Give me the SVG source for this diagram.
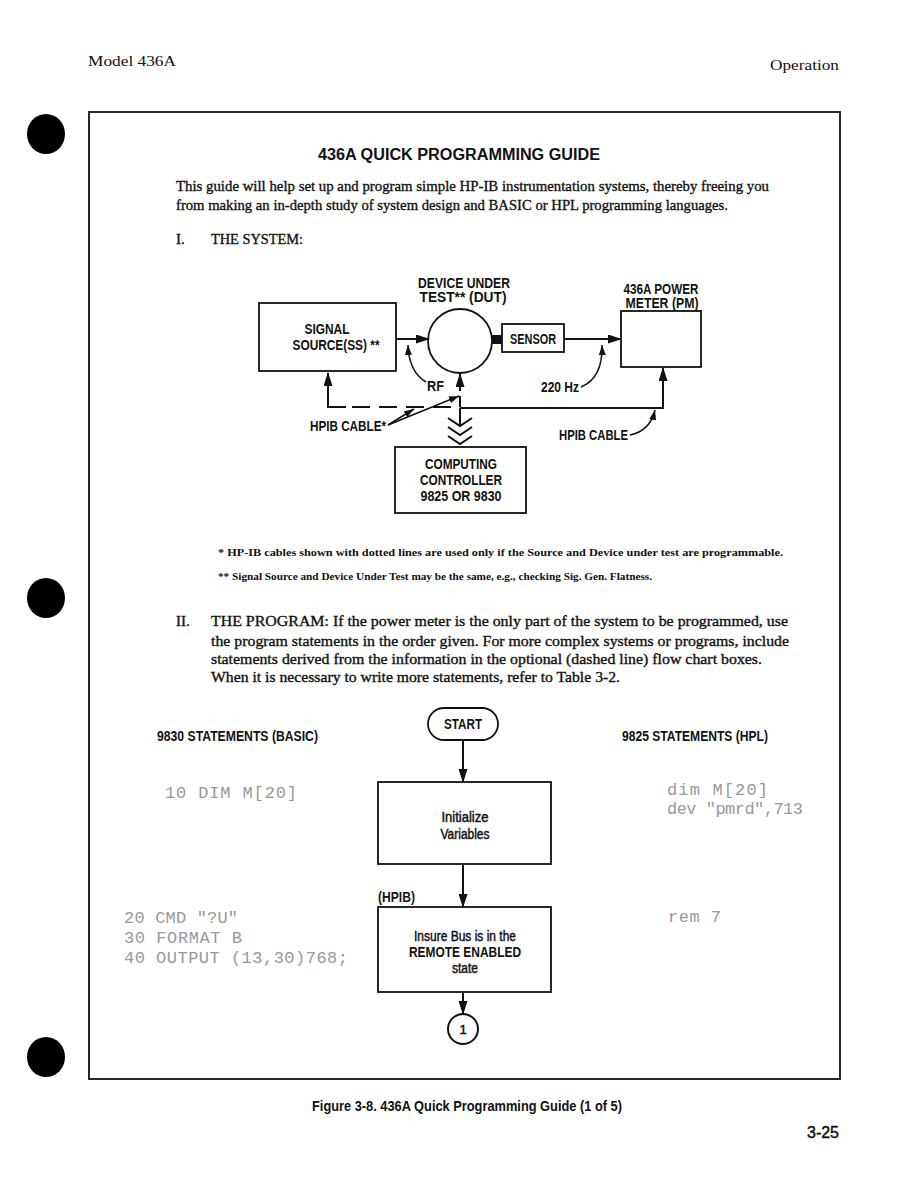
<svg xmlns="http://www.w3.org/2000/svg" width="922" height="1188" viewBox="0 0 922 1188">
<style>
.serif{font-family:"Liberation Serif",serif;fill:#111}
.hdr{font-size:15.5px}
.body{font-size:15px;stroke:#111;stroke-width:0.35}
.note{font-size:10px;font-weight:bold}
.cond{font-family:"Liberation Sans Narrow","Liberation Sans",sans-serif;font-weight:bold;fill:#111}
.cond.nb{font-weight:normal;stroke:#111;stroke-width:0.45}
.lab{font-size:14px}
.fc{font-size:14px}
.fcb{font-size:14px}
.code{font-family:"Liberation Mono",monospace;font-size:17px;fill:#999}
.box{fill:#fff;stroke:#111;stroke-width:1.8}
.ln{fill:none;stroke:#111;stroke-width:2}
.thin{fill:none;stroke:#111;stroke-width:1.5}
.mid{text-anchor:middle}
</style>
<defs>
<marker id="arr" markerUnits="userSpaceOnUse" markerWidth="14" markerHeight="9" refX="13" refY="4.5" orient="auto">
<path d="M0,0 L14,4.5 L0,9 z" fill="#111"/>
</marker>
<marker id="arrs" markerUnits="userSpaceOnUse" markerWidth="10" markerHeight="7" refX="10" refY="3.5" orient="auto">
<path d="M0,0 L10,3.5 L0,7 z" fill="#111"/>
</marker>
</defs>
<rect width="922" height="1188" fill="#fff"/>

<!-- page header -->
<text class="serif hdr" x="88" y="66" textLength="88" lengthAdjust="spacingAndGlyphs">Model 436A</text>
<text class="serif hdr" x="839" y="70" text-anchor="end" textLength="69" lengthAdjust="spacingAndGlyphs">Operation</text>

<!-- punch holes -->
<ellipse cx="46" cy="134" rx="19" ry="20" fill="#000"/>
<ellipse cx="46" cy="598" rx="19" ry="20" fill="#000"/>
<ellipse cx="46" cy="1057" rx="19" ry="20" fill="#000"/>

<!-- frame -->
<rect x="89" y="112" width="751" height="967" fill="none" stroke="#111" stroke-width="1.8"/>

<!-- title and intro -->
<text class="cond mid" x="459" y="160" font-size="16" textLength="282" lengthAdjust="spacingAndGlyphs">436A QUICK PROGRAMMING GUIDE</text>
<text class="serif body" x="176" y="191" textLength="593" lengthAdjust="spacingAndGlyphs">This guide will help set up and program simple HP-IB instrumentation systems, thereby freeing you</text>
<text class="serif body" x="176" y="210" textLength="552" lengthAdjust="spacingAndGlyphs">from making an in-depth study of system design and BASIC or HPL programming languages.</text>
<text class="serif body" x="176" y="244">I.</text>
<text class="serif body" x="211" y="244" textLength="92" lengthAdjust="spacingAndGlyphs">THE SYSTEM:</text>

<!-- system diagram nodes -->
<g id="signal-source">
<rect class="box" x="259" y="303" width="137" height="68"/>
<text class="cond lab mid" x="327" y="334" textLength="45" lengthAdjust="spacingAndGlyphs">SIGNAL</text>
<text class="cond lab mid" x="336" y="350" textLength="87" lengthAdjust="spacingAndGlyphs">SOURCE(SS) **</text>
</g>
<g id="dut">
<circle cx="460" cy="341" r="32" fill="#fff" stroke="#111" stroke-width="1.8"/>
<text class="cond lab mid" x="464" y="288" textLength="92" lengthAdjust="spacingAndGlyphs">DEVICE UNDER</text>
<text class="cond lab mid" x="463" y="302" textLength="87" lengthAdjust="spacingAndGlyphs">TEST**  (DUT)</text>
</g>
<g id="sensor">
<rect x="492" y="335" width="10" height="9" fill="#111"/>
<rect class="box" x="502" y="324" width="62" height="28"/>
<text class="cond lab mid" x="533" y="344" textLength="46" lengthAdjust="spacingAndGlyphs">SENSOR</text>
</g>
<g id="power-meter">
<rect class="box" x="621" y="311" width="80" height="56"/>
<text class="cond lab mid" x="661" y="294" textLength="75" lengthAdjust="spacingAndGlyphs">436A POWER</text>
<text class="cond lab mid" x="662" y="308" textLength="73" lengthAdjust="spacingAndGlyphs">METER (PM)</text>
</g>
<g id="controller">
<rect class="box" x="395" y="447" width="131" height="66"/>
<text class="cond lab mid" x="461" y="469" textLength="72" lengthAdjust="spacingAndGlyphs">COMPUTING</text>
<text class="cond lab mid" x="461" y="485" textLength="82" lengthAdjust="spacingAndGlyphs">CONTROLLER</text>
<text class="cond lab mid" x="461" y="501" textLength="81" lengthAdjust="spacingAndGlyphs">9825 OR 9830</text>
</g>

<!-- system diagram connectors -->
<g id="system-connectors">
<line class="ln" x1="396" y1="339" x2="429" y2="339" marker-end="url(#arr)"/>
<line class="ln" x1="564" y1="339" x2="621" y2="339" marker-end="url(#arr)"/>
<path class="ln" d="M460,408 L663,408 L663,368" marker-end="url(#arr)"/>
<line class="ln" x1="460" y1="408" x2="460" y2="426"/>
<polyline class="ln" points="448,418 460,426 472,418"/>
<polyline class="ln" points="448,427 460,435 472,427"/>
<polyline class="ln" points="448,436 460,444 472,436"/>
<line class="ln" x1="460" y1="407" x2="460" y2="396"/>
<line class="ln" x1="460" y1="391" x2="460" y2="374" marker-end="url(#arr)"/>
<path class="ln" d="M346,407 L328,407 L328,373" marker-end="url(#arr)"/>
<line class="ln" x1="352" y1="407" x2="455" y2="407" stroke-dasharray="18 9"/>
<!-- pointers -->
<path class="thin" d="M426,382 Q409,372 408,345" marker-end="url(#arrs)"/>
<text class="cond lab" x="427" y="391" textLength="17" lengthAdjust="spacingAndGlyphs">RF</text>
<path class="thin" d="M581,387 Q603,378 602,345" marker-end="url(#arrs)"/>
<text class="cond lab" x="541" y="392" textLength="38" lengthAdjust="spacingAndGlyphs">220 Hz</text>
<path class="thin" d="M630,435 Q650,431 655,410" marker-end="url(#arrs)"/>
<text class="cond lab" x="559" y="440" textLength="69" lengthAdjust="spacingAndGlyphs">HPIB CABLE</text>
<line class="thin" x1="388" y1="425" x2="414" y2="409" marker-end="url(#arrs)"/>
<line class="thin" x1="388" y1="425" x2="459" y2="396" marker-end="url(#arrs)"/>
<text class="cond lab" x="310" y="431" textLength="76" lengthAdjust="spacingAndGlyphs">HPIB CABLE*</text>
</g>

<!-- footnotes -->
<text class="serif note" x="218" y="556" textLength="565" lengthAdjust="spacingAndGlyphs">* HP-IB cables shown with dotted lines are used only if the Source and Device under test are programmable.</text>
<text class="serif note" x="218" y="580" textLength="434" lengthAdjust="spacingAndGlyphs">** Signal Source and Device Under Test may be the same, e.g., checking Sig. Gen. Flatness.</text>

<!-- program section -->
<text class="serif body" x="176" y="626">II.</text>
<text class="serif body" x="211" y="626" textLength="577" lengthAdjust="spacingAndGlyphs">THE PROGRAM:  If the power meter is the only part of the system to be programmed, use</text>
<text class="serif body" x="211" y="646" textLength="578" lengthAdjust="spacingAndGlyphs">the program statements in the order given.  For more complex systems or programs, include</text>
<text class="serif body" x="211" y="664" textLength="551" lengthAdjust="spacingAndGlyphs">statements derived from the information in the optional (dashed line) flow chart boxes.</text>
<text class="serif body" x="211" y="682" textLength="409" lengthAdjust="spacingAndGlyphs">When it is necessary to write more statements, refer to Table 3-2.</text>

<text class="cond fc" x="157" y="741" textLength="161" lengthAdjust="spacingAndGlyphs">9830 STATEMENTS (BASIC)</text>
<text class="cond fc" x="622" y="741" textLength="146" lengthAdjust="spacingAndGlyphs">9825 STATEMENTS (HPL)</text>

<!-- code listings -->
<g id="code-basic">
<text class="code" x="165" y="798" textLength="132" lengthAdjust="spacing">10 DIM M[20]</text>
<text class="code" x="124" y="923" textLength="114" lengthAdjust="spacing">20 CMD "?U"</text>
<text class="code" x="124" y="943" textLength="118" lengthAdjust="spacing">30 FORMAT B</text>
<text class="code" x="124" y="963" textLength="224" lengthAdjust="spacing">40 OUTPUT (13,30)768;</text>
</g>
<g id="code-hpl">
<text class="code" x="667" y="795" textLength="101" lengthAdjust="spacing">dim M[20]</text>
<text class="code" x="667" y="814" textLength="136" lengthAdjust="spacing">dev "pmrd",713</text>
<text class="code" x="668" y="922" textLength="53" lengthAdjust="spacing">rem 7</text>
</g>

<!-- flowchart nodes -->
<g id="start">
<rect class="box" x="428" y="708" width="70" height="32" rx="16" stroke-width="2"/>
<text class="cond fc mid" x="463" y="729" textLength="38" lengthAdjust="spacingAndGlyphs">START</text>
</g>
<g id="initialize">
<rect class="box" x="378" y="782" width="173" height="82" stroke-width="2"/>
<text class="cond nb fcb mid" x="465" y="822" textLength="47" lengthAdjust="spacingAndGlyphs">Initialize</text>
<text class="cond nb fcb mid" x="465" y="839" textLength="49" lengthAdjust="spacingAndGlyphs">Variables</text>
</g>
<g id="insure-bus">
<text class="cond fc" x="378" y="902" textLength="37" lengthAdjust="spacingAndGlyphs">(HPIB)</text>
<rect class="box" x="378" y="907" width="173" height="85" stroke-width="2"/>
<text class="cond nb fcb mid" x="465" y="941" textLength="102" lengthAdjust="spacingAndGlyphs">Insure Bus is in the</text>
<text class="cond fcb mid" x="465" y="957" textLength="112" lengthAdjust="spacingAndGlyphs">REMOTE ENABLED</text>
<text class="cond nb fcb mid" x="465" y="973" textLength="26" lengthAdjust="spacingAndGlyphs">state</text>
</g>
<g id="connector-1">
<circle cx="463" cy="1029" r="15" fill="#fff" stroke="#111" stroke-width="2"/>
<text class="cond nb mid" x="463" y="1034" font-size="13">1</text>
</g>

<!-- flowchart connectors -->
<g id="flow-connectors">
<line class="ln" x1="463" y1="740" x2="463" y2="782" marker-end="url(#arr)"/>
<line class="ln" x1="463" y1="864" x2="463" y2="907" marker-end="url(#arr)"/>
<line class="ln" x1="463" y1="992" x2="463" y2="1014" marker-end="url(#arr)"/>
</g>

<!-- caption -->
<text class="cond mid" x="467" y="1111" font-size="15" textLength="310" lengthAdjust="spacingAndGlyphs">Figure 3-8. 436A Quick Programming Guide (1 of 5)</text>
<text class="cond nb" x="807" y="1138" font-size="16" textLength="32" lengthAdjust="spacingAndGlyphs">3-25</text>
</svg>
